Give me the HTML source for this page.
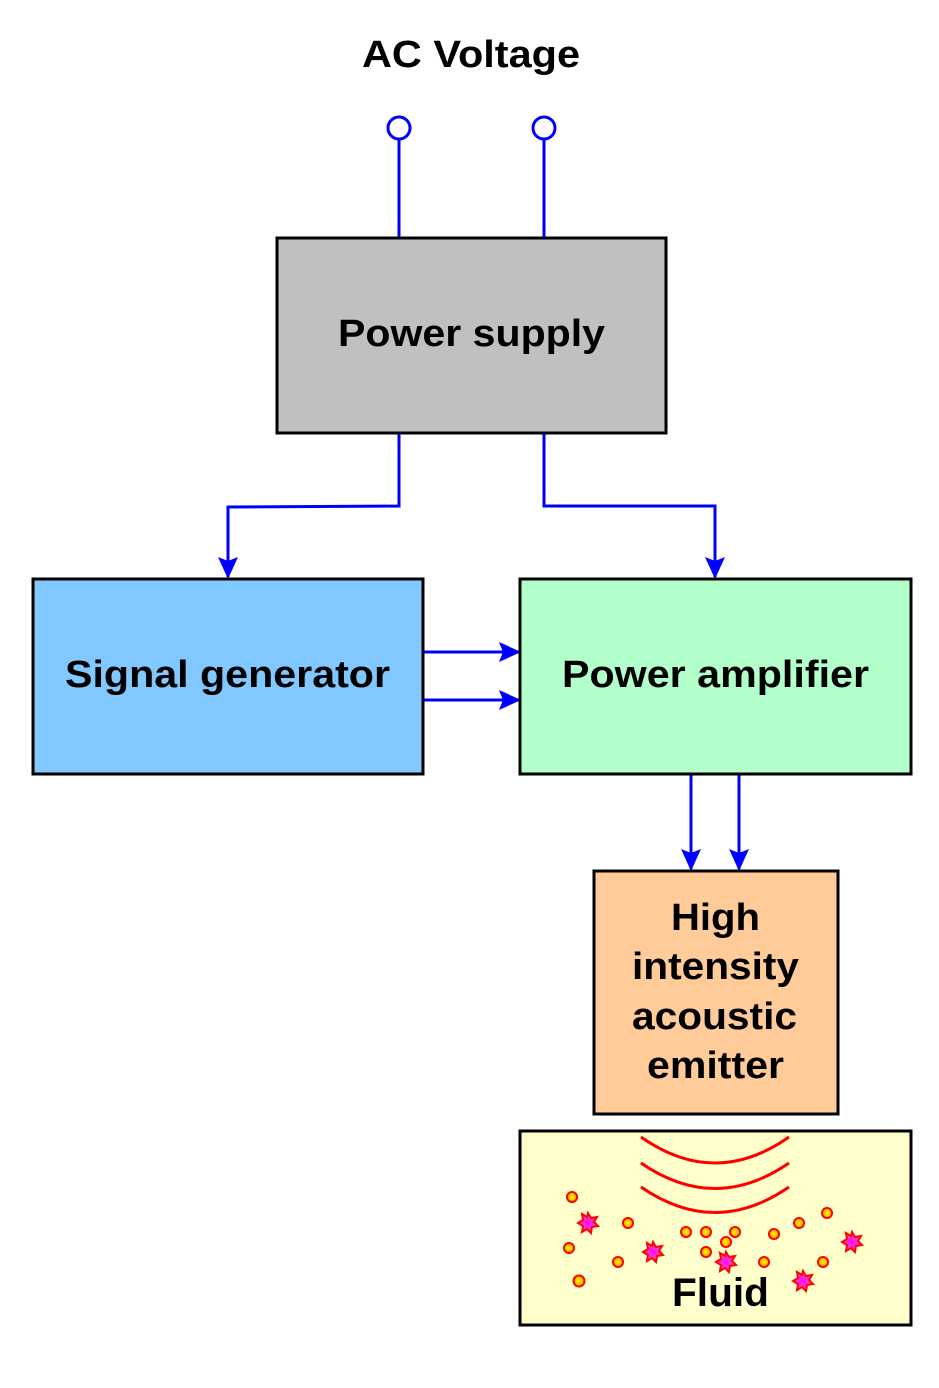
<!DOCTYPE html>
<html><head><style>
body{margin:0;background:#fff}
svg text{font-family:"Liberation Sans",Arial,sans-serif;font-weight:bold;fill:#000}
</style></head><body>
<svg width="939" height="1383" xmlns="http://www.w3.org/2000/svg">
<defs>
<marker id="a" markerWidth="22" markerHeight="22" refX="20" refY="10" orient="auto" markerUnits="userSpaceOnUse"><path d="M0,0 L22,10 L0,20 L4,10 Z" fill="#0000ff"/></marker>
<radialGradient id="g1"><stop offset="0" stop-color="#ffee00"/><stop offset="1" stop-color="#ffb000"/></radialGradient>
<radialGradient id="g2"><stop offset="0" stop-color="#ff00ff"/><stop offset="1" stop-color="#ff66aa"/></radialGradient>
<path id="st" d="M0,-10 L3,-5 L9,-6 L6,-1 L10,3 L4,4 L3,10 L-1,6 L-6,9 L-5,3 L-10,0 L-5,-3 L-6,-9 L-1,-6 Z"/>
</defs>
<g font-size="38" lengthAdjust="spacingAndGlyphs">
<text x="362" y="67" textLength="218" lengthAdjust="spacingAndGlyphs">AC Voltage</text>
</g>
<g stroke="#0000ff" stroke-width="3" fill="none">
<circle cx="399" cy="128" r="11" fill="#fff"/>
<circle cx="544" cy="128" r="11" fill="#fff"/>
<line x1="399" y1="139" x2="399" y2="238"/>
<line x1="544" y1="139" x2="544" y2="238"/>
<polyline points="399,433 399,506 228,507 228,577" marker-end="url(#a)"/>
<polyline points="544,433 544,506 715,506 715,577" marker-end="url(#a)"/>
<line x1="424" y1="652" x2="519" y2="652" marker-end="url(#a)"/>
<line x1="424" y1="700" x2="519" y2="700" marker-end="url(#a)"/>
<line x1="691" y1="774" x2="691" y2="869" marker-end="url(#a)"/>
<line x1="739" y1="774" x2="739" y2="869" marker-end="url(#a)"/>
</g>
<rect x="277" y="238" width="389" height="195" fill="#c0c0c0" stroke="#000" stroke-width="3"/>
<text x="338" y="346" font-size="38" textLength="267" lengthAdjust="spacingAndGlyphs">Power supply</text>
<rect x="33" y="579" width="390" height="195" fill="#80c8ff" stroke="#000" stroke-width="3"/>
<text x="65" y="687" font-size="38" textLength="325" lengthAdjust="spacingAndGlyphs">Signal generator</text>
<rect x="520" y="579" width="391" height="195" fill="#b3ffcc" stroke="#000" stroke-width="3"/>
<text x="562" y="687" font-size="38" textLength="307" lengthAdjust="spacingAndGlyphs">Power amplifier</text>
<rect x="594" y="871" width="244" height="243" fill="#ffcc99" stroke="#000" stroke-width="3"/>
<g font-size="38">
<text x="671" y="930" textLength="89" lengthAdjust="spacingAndGlyphs">High</text>
<text x="632" y="979" textLength="167" lengthAdjust="spacingAndGlyphs">intensity</text>
<text x="632" y="1029" textLength="165" lengthAdjust="spacingAndGlyphs">acoustic</text>
<text x="647" y="1078" textLength="137" lengthAdjust="spacingAndGlyphs">emitter</text>
</g>
<rect x="520" y="1131" width="391" height="194" fill="#ffffcc" stroke="#000" stroke-width="3"/>
<g stroke="#ff0000" stroke-width="3" fill="none">
<path d="M641,1137 Q715,1189 789,1137"/>
<path d="M641,1163 Q715,1214 789,1163"/>
<path d="M641,1187 Q715,1238 789,1187"/>
</g>
<g fill="url(#g1)" stroke="#ff0000" stroke-width="2">
<circle cx="572" cy="1197" r="5"/><circle cx="628" cy="1223" r="5"/><circle cx="569" cy="1248" r="5"/>
<circle cx="618" cy="1262" r="5"/><circle cx="579" cy="1281" r="5.5"/><circle cx="686" cy="1232" r="5"/>
<circle cx="706" cy="1232" r="5"/><circle cx="735" cy="1232" r="5"/><circle cx="726" cy="1242" r="5"/>
<circle cx="706" cy="1252" r="5"/><circle cx="764" cy="1262" r="5"/><circle cx="774" cy="1234" r="5"/>
<circle cx="799" cy="1223" r="5"/><circle cx="827" cy="1213" r="5"/><circle cx="823" cy="1262" r="5"/>
</g>
<g fill="url(#g2)" stroke="#ff0000" stroke-width="2">
<use href="#st" x="588" y="1223"/><use href="#st" x="653" y="1252"/><use href="#st" x="726" y="1262"/>
<use href="#st" x="803" y="1281"/><use href="#st" x="852" y="1242"/>
</g>
<text x="672" y="1306" font-size="40" textLength="97" lengthAdjust="spacingAndGlyphs">Fluid</text>
</svg>
</body></html>
